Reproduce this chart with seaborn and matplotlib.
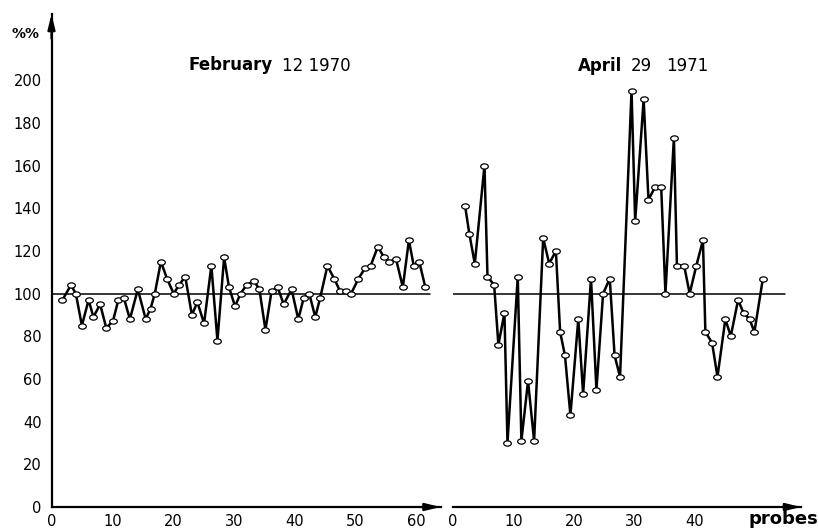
import numpy as np
import matplotlib
matplotlib.use("Agg")
import matplotlib.pyplot as plt
from matplotlib.path import Path
import seaborn as sns

# Probe positions and relative values (%) for the two sampling dates
feb_probe = [1.8, 3.2, 4.0, 5.0, 6.1, 6.9, 8.0, 9.0, 10.1, 11.0, 11.9, 12.9, 14.2, 15.5,
             16.3, 17.0, 18.0, 19.0, 20.1, 21.0, 22.0, 23.1, 24.0, 25.1, 26.3, 27.3, 28.4,
             29.2, 30.2, 31.1, 32.1, 33.3, 34.2, 35.2, 36.2, 37.2, 38.2, 39.5, 40.6, 41.5,
             42.4, 43.4, 44.2, 45.4, 46.5, 47.5, 48.4, 49.3, 50.5, 51.6, 52.5, 53.7, 54.7,
             55.6, 56.7, 57.8, 58.8, 59.6, 60.5, 61.5]
feb_pct = [97, 104, 100, 85, 97, 89, 95, 84, 87, 97, 98, 88, 102, 88, 93, 100, 115, 107,
           100, 104, 108, 90, 96, 86, 113, 78, 117, 103, 94, 100, 104, 106, 102, 83, 101,
           103, 95, 102, 88, 98, 100, 89, 98, 113, 107, 101, 101, 100, 107, 112, 113, 122,
           117, 115, 116, 103, 125, 113, 115, 103]

apr_probe = [2.0, 2.7, 3.6, 5.2, 5.7, 6.8, 7.5, 8.5, 9.0, 10.7, 11.3, 12.4, 13.4, 14.9,
             15.9, 17.0, 17.7, 18.5, 19.4, 20.7, 21.5, 22.8, 23.7, 24.8, 25.9, 26.7, 27.6,
             29.5, 30.1, 31.5, 32.3, 33.4, 34.4, 35.1, 36.5, 37.0, 38.2, 39.1, 40.2, 41.3,
             41.7, 42.8, 43.7, 45.0, 45.9, 47.1, 48.0, 49.0, 49.8, 51.2]
apr_pct = [141, 128, 114, 160, 108, 104, 76, 91, 30, 108, 31, 59, 31, 126, 114, 120, 82,
           71, 43, 88, 53, 107, 55, 100, 107, 71, 61, 195, 134, 191, 144, 150, 150, 100,
           173, 113, 113, 100, 113, 125, 82, 77, 61, 88, 80, 97, 91, 88, 82, 107]

y_ticks = [0, 20, 40, 60, 80, 100, 120, 140, 160, 180, 200]
feb_xticks = [0, 10, 20, 30, 40, 50, 60]
apr_xticks = [0, 10, 20, 30, 40, 50]
apr_xticklabels = ["0", "10", "20", "30", "40", ""]
reference_level = 100

sns.set_style("white")
plt.rcParams["font.family"] = ["DejaVu Sans"]

W, H = 819, 531
fig = plt.figure(figsize=(W / 100, H / 100), dpi=100)


def px_rect(left, bottom, width, height):
    return [left / W, bottom / H, width / W, height / H]


ax1 = fig.add_axes(px_rect(51.5, 24, 389, 493))
ax2 = fig.add_axes(px_rect(453, 24, 348, 493))

# flattened circle used as point marker
circ = Path.unit_circle()
ellipse = Path(circ.vertices * np.array([1.45, 1.0]), circ.codes)

line_kw = dict(color="black", linewidth=1.8, marker=ellipse, markersize=5.5,
               markerfacecolor="white", markeredgecolor="black", markeredgewidth=0.9,
               sort=False, estimator=None, legend=False)

sns.lineplot(x=feb_probe, y=feb_pct, ax=ax1, **line_kw)
sns.lineplot(x=apr_probe, y=apr_pct, ax=ax2, **line_kw)

ax1.plot([0, 62.2], [reference_level] * 2, color="black", lw=1.1, zorder=1)
ax2.plot([0, 54.8], [reference_level] * 2, color="black", lw=1.1, zorder=1)

for ax, xmax in ((ax1, 64), (ax2, 57.5)):
    ax.set_xlim(0, xmax)
    ax.set_ylim(0, 231)
    ax.set_facecolor("none")
    ax.spines["top"].set_visible(False)
    ax.spines["right"].set_visible(False)
    ax.spines["bottom"].set_linewidth(1.6)
    ax.spines["bottom"].set_color("black")
    ax.tick_params(axis="x", direction="in", length=4, width=1.2, colors="black",
                   labelsize=10.5, pad=5)
    ax.annotate("", xy=(1.0, 0), xytext=(0.95, 0), xycoords="axes fraction",
                arrowprops=dict(arrowstyle="-|>,head_length=0.9,head_width=0.22",
                                color="black", lw=1.6, shrinkA=0, shrinkB=0))

ax1.spines["left"].set_linewidth(1.6)
ax1.spines["left"].set_color("black")
ax1.set_yticks(y_ticks)
ax1.tick_params(axis="y", direction="in", length=4, width=1.2, colors="black",
                labelsize=10.5, pad=7)
ax1.set_xticks(feb_xticks)
ax1.annotate("", xy=(0, 1.0), xytext=(0, 0.95), xycoords="axes fraction",
             arrowprops=dict(arrowstyle="-|>,head_length=0.9,head_width=0.22",
                             color="black", lw=1.6, shrinkA=0, shrinkB=0))

ax2.spines["left"].set_visible(False)
ax2.set_yticks([])
ax2.set_xticks(apr_xticks)
ax2.set_xticklabels(apr_xticklabels)
ax2.set_xticks([0], minor=True)
ax2.tick_params(axis="x", which="minor", direction="inout", length=12, width=1.6)

for ax in (ax1, ax2):
    ax.set_xlabel("")
    ax.set_ylabel("")


def ftext(x, y, s, **kw):
    fig.text(x / W, 1 - y / H, s, va="baseline", ha="left", color="black", **kw)


ftext(12, 38, "%%", fontsize=10, fontweight="bold")
ftext(188, 70, "February", fontsize=12, fontweight="bold")
ftext(282, 71, "12 1970", fontsize=12)
ftext(578, 71, "April", fontsize=12, fontweight="bold")
ftext(631, 71, "29", fontsize=12)
ftext(666, 71, "1971", fontsize=12)
ftext(749, 524, "probes", fontsize=13, fontweight="bold")

fig.savefig("out.png", dpi=100)
